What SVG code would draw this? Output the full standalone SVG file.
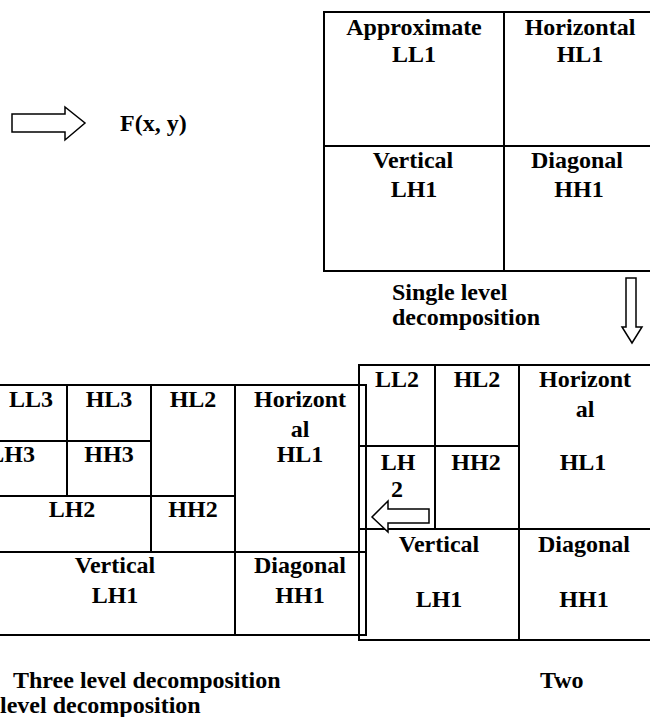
<svg xmlns="http://www.w3.org/2000/svg" width="650" height="717" viewBox="0 0 650 717">
<style>
.t{font-family:"Liberation Serif","Times New Roman",serif;font-weight:bold;font-size:24px;fill:#000}
.c{text-anchor:middle}
.ln{stroke:#000;stroke-width:2;fill:none}
.ar{stroke:#000;stroke-width:1.5;fill:#fff;stroke-linejoin:miter}
</style>
<rect width="650" height="717" fill="#fff"/>
<g id="input-arrow">
<path class="ar" d="M12,114 H65 V107 L85,123 L65,140 V132 H12 Z"/>
</g>
<g id="fxy"><text class="t" x="120" y="131">F(x, y)</text></g>
<g id="single-level">
<rect class="ln" x="324" y="12" width="330" height="259"/>
<line class="ln" x1="504" y1="12" x2="504" y2="271"/>
<line class="ln" x1="324" y1="146" x2="654" y2="146"/>
<text class="t c" x="414" y="35">Approximate</text>
<text class="t c" x="414" y="62">LL1</text>
<text class="t c" x="580" y="35">Horizontal</text>
<text class="t c" x="580" y="62">HL1</text>
<text class="t c" x="413" y="168">Vertical</text>
<text class="t c" x="414" y="197">LH1</text>
<text class="t c" x="577" y="168">Diagonal</text>
<text class="t c" x="579" y="197">HH1</text>
</g>
<g id="single-label">
<text class="t" x="392" y="300">Single level</text>
<text class="t" x="392" y="325">decomposition</text>
</g>
<g id="down-arrow">
<path class="ar" d="M626,278 H636 V327 H642 L632,343 L622,327 H626 Z"/>
</g>
<g id="three-level">
<rect class="ln" x="-5" y="385" width="371" height="250"/>
<line class="ln" x1="67" y1="385" x2="67" y2="496"/>
<line class="ln" x1="151" y1="385" x2="151" y2="552"/>
<line class="ln" x1="235" y1="385" x2="235" y2="635"/>
<line class="ln" x1="-5" y1="441" x2="151" y2="441"/>
<line class="ln" x1="-5" y1="496" x2="235" y2="496"/>
<line class="ln" x1="-5" y1="552" x2="366" y2="552"/>
<text class="t c" x="31" y="407">LL3</text>
<text class="t c" x="109" y="407">HL3</text>
<text class="t c" x="193" y="407">HL2</text>
<text class="t c" x="300" y="407">Horizont</text>
<text class="t c" x="300" y="437">al</text>
<text class="t c" x="300" y="462">HL1</text>
<text class="t" x="35" y="462" text-anchor="end">LH3</text>
<text class="t c" x="109" y="462">HH3</text>
<text class="t c" x="72" y="517">LH2</text>
<text class="t c" x="193" y="517">HH2</text>
<text class="t c" x="115" y="573">Vertical</text>
<text class="t c" x="115" y="603">LH1</text>
<text class="t c" x="300" y="573">Diagonal</text>
<text class="t c" x="300" y="603">HH1</text>
</g>
<g id="two-level">
<rect class="ln" x="359" y="365" width="295" height="275"/>
<line class="ln" x1="519" y1="365" x2="519" y2="640"/>
<line class="ln" x1="435" y1="365" x2="435" y2="529"/>
<line class="ln" x1="359" y1="446" x2="519" y2="446"/>
<line class="ln" x1="359" y1="529" x2="654" y2="529"/>
<text class="t c" x="397" y="387">LL2</text>
<text class="t c" x="477" y="387">HL2</text>
<text class="t c" x="585" y="387">Horizont</text>
<text class="t c" x="585" y="417">al</text>
<text class="t c" x="583" y="470">HL1</text>
<text class="t c" x="398" y="470">LH</text>
<text class="t c" x="397" y="497">2</text>
<text class="t c" x="476" y="470">HH2</text>
<text class="t c" x="439" y="552">Vertical</text>
<text class="t c" x="439" y="607">LH1</text>
<text class="t c" x="584" y="552">Diagonal</text>
<text class="t c" x="584" y="607">HH1</text>
</g>
<g id="connectors">
<path class="ar" fill="none" d="M429,509 H388 V501 L372,517 L388,532 V523 H429 Z"/>
</g>
<g id="captions">
<text class="t" x="13" y="688">Three level decomposition</text>
<text class="t" x="0" y="713">level decomposition</text>
<text class="t" x="540" y="688">Two</text>
</g>
</svg>
